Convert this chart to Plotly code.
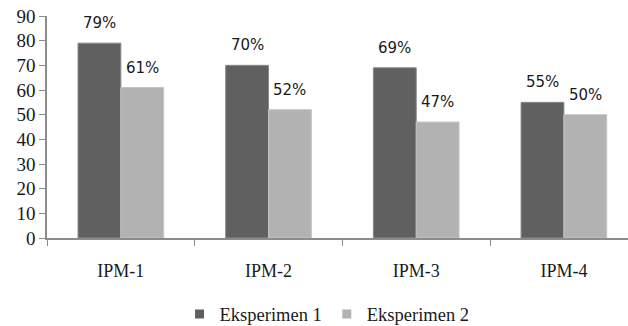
import plotly.graph_objects as go

categories = ["IPM-1", "IPM-2", "IPM-3", "IPM-4"]
eksperimen_1 = [79, 70, 69, 55]
eksperimen_2 = [61, 52, 47, 50]
y_ticks = [0, 10, 20, 30, 40, 50, 60, 70, 80, 90]

SERIF = "Liberation Serif, Times New Roman, serif"
SANS = "DejaVu Sans, Verdana, sans-serif"
TEXT = "#1a1a1a"
AXIS = "#8c8c8c"
BAR_W = 0.29
DARK = "#606060"
LIGHT = "#b2b2b2"

fig = go.Figure()
fig.add_trace(go.Bar(
    name="Eksperimen 1", x=categories, y=eksperimen_1,
    width=BAR_W, offset=-BAR_W, showlegend=False,
    marker=dict(color=DARK, line=dict(color="#8a8a8a", width=1)),
))
fig.add_trace(go.Bar(
    name="Eksperimen 2", x=categories, y=eksperimen_2,
    width=BAR_W, offset=0, showlegend=False,
    marker=dict(color=LIGHT, line=dict(color="#c4c4c4", width=1)),
))

# small square swatches for the legend
for name, color in (("Eksperimen 1", DARK), ("Eksperimen 2", LIGHT)):
    fig.add_trace(go.Scatter(
        name=name, x=[None], y=[None], mode="markers",
        marker=dict(symbol="square", size=9, color=color),
    ))

# percentage labels above each bar
annotations = []
for i, (a, b) in enumerate(zip(eksperimen_1, eksperimen_2)):
    for val, xpos in ((a, i - BAR_W / 2), (b, i + BAR_W / 2)):
        annotations.append(dict(
            x=xpos, y=val, xref="x", yref="y",
            text=f"{val}%", showarrow=False,
            yanchor="middle", yshift=20,
            font=dict(family=SANS, size=15, color=TEXT),
        ))

fig.update_layout(
    width=628, height=326,
    margin=dict(l=47, r=0, t=16, b=88, autoexpand=False),
    paper_bgcolor="white", plot_bgcolor="white",
    font=dict(family=SERIF, size=18, color=TEXT),
    showlegend=True,
    legend=dict(
        orientation="h", x=0.482, xanchor="center",
        y=-0.345, yanchor="middle",
        font=dict(family=SERIF, size=18.5, color=TEXT),
        itemwidth=30, tracegroupgap=0,
    ),
    annotations=annotations,
    xaxis=dict(
        type="category", range=[-0.5, 3.434],
        tickson="boundaries", ticks="outside", ticklen=6,
        tickcolor=AXIS, showline=True, linecolor=AXIS, linewidth=1.5,
        showgrid=False, zeroline=False, ticklabelstandoff=16,
        automargin=False,
        tickfont=dict(family=SERIF, size=18, color=TEXT),
    ),
    yaxis=dict(
        range=[0, 90], tickvals=y_ticks,
        ticks="outside", ticklen=6, tickcolor=AXIS,
        showline=True, linecolor=AXIS, linewidth=1.5,
        showgrid=False, zeroline=False, automargin=False,
        tickfont=dict(family=SERIF, size=19, color=TEXT),
    ),
)

fig.write_html("out.html")
